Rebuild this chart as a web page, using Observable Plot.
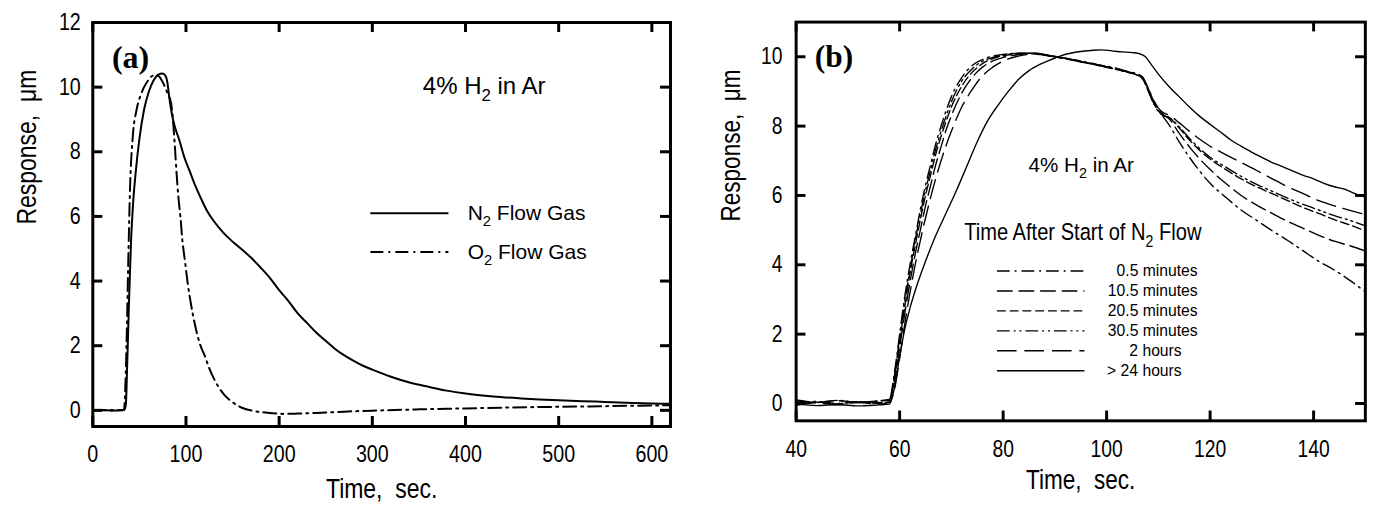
<!DOCTYPE html>
<html>
<head>
<meta charset="utf-8">
<script src="https://cdn.jsdelivr.net/npm/d3@7"></script>
<script src="https://cdn.jsdelivr.net/npm/@observablehq/plot@0.6"></script>
<style>
  html, body { margin: 0; padding: 0; background: #fff; }
  body { width: 1374px; height: 522px; overflow: hidden; position: relative; }
  #pa { position: absolute; left: 0; top: 0; }
  #pb { position: absolute; left: 687px; top: 0; }
</style>
</head>
<body>
<div id="pa"></div>
<div id="pb"></div>
<script>
// ---------- Tick values ----------
const xTicksA = [0, 100, 200, 300, 400, 500, 600];
const yTicksA = [0, 2, 4, 6, 8, 10, 12];
const xTicksB = [40, 60, 80, 100, 120, 140];
const yTicksB = [0, 2, 4, 6, 8, 10];

// ---------- Panel (a) series : [time s, response um] ----------
const n2Flow = [
  [0,0],[10,0.01],[20,-0.01],[30,0],[34,0.02],[35.5,0.2],[37,1.5],[39,3.5],[41,5.2],[43,6.3],[46,7.35],
  [50,8.4],[55,9.3],[60,9.85],[65,10.2],[70,10.38],[75,10.42],[78,10.35],[80,10.15],[82,9.7],
  [85,9.15],[88,8.78],[93,8.35],[98,7.85],[104,7.4],[110,6.95],[117,6.5],[123,6.15],[130,5.85],
  [140,5.5],[150,5.22],[160,4.98],[170,4.72],[180,4.42],[190,4.1],[200,3.72],[210,3.38],[220,3.0],
  [230,2.7],[240,2.4],[250,2.15],[260,1.9],[270,1.7],[280,1.53],[290,1.38],[300,1.26],[320,1.04],
  [340,0.86],[360,0.73],[380,0.61],[400,0.52],[430,0.43],[460,0.37],[500,0.31],[540,0.27],
  [580,0.23],[620,0.2]
];
const o2Flow = [
  [0,0],[10,0],[20,0.01],[30,0],[33.5,0.02],[35,0.8],[36.5,2.4],[38,4.5],[40,6.9],[43,8.5],[47,9.3],
  [52,9.8],[58,10.15],[64,10.35],[68,10.38],[72,10.3],[76,10.1],[80,9.82],[84,9.5],[86,9.0],
  [88,8.2],[90,7.3],[92,6.55],[94,6.0],[96,5.3],[99,4.6],[102,3.9],[105,3.35],[110,2.6],[115,2.05],
  [120,1.7],[125,1.3],[130,0.98],[135,0.72],[140,0.52],[150,0.25],[160,0.08],[175,-0.03],
  [190,-0.08],[205,-0.11],[220,-0.1],[240,-0.08],[270,-0.04],[300,-0.01],[350,0.03],[400,0.06],
  [450,0.09],[500,0.11],[550,0.13],[600,0.15],[620,0.16]
];

// ---------- Panel (b) series : [time s, response um] ----------
const t05min = [
  [40,0.02],[44,0.06],[48,0.0],[52,0.05],[56,0.03],[58,0.1],[59,0.9],[60,2.0],[61,3.1],[62,4.0],
  [63,4.8],[64,5.6],[65,6.3],[66,6.9],[67,7.5],[68,8.0],[69,8.45],[70,8.85],[72,9.4],[74,9.75],
  [76,9.92],[78,10.02],[80,10.07],[83,10.1],[86,10.1],[89,10.03],[92,9.95],[95,9.88],[98,9.78],
  [101,9.7],[104,9.58],[106,9.5],[107,9.4],[108,9.05],[109,8.7],[110,8.45],[111,8.25],[112,8.05],
  [114,7.55],[116,7.1],[118,6.7],[120,6.35],[123,5.95],[126,5.58],[129,5.28],[132,4.98],[135,4.7],
  [138,4.4],[141,4.1],[144,3.85],[147,3.55],[150,3.22]
];
const t105min = [
  [40,0.08],[44,0.03],[48,0.08],[52,0.04],[56,0.07],[58,0.1],[59,0.6],[60,1.6],[61,2.6],[62,3.5],
  [63,4.3],[64,5.0],[65,5.7],[66,6.3],[67,6.9],[68,7.4],[69,7.9],[70,8.3],[72,8.95],[74,9.4],
  [76,9.7],[78,9.88],[80,9.98],[83,10.06],[86,10.1],[89,10.04],[92,9.96],[95,9.86],[98,9.76],
  [101,9.68],[104,9.56],[106,9.48],[107,9.38],[108,9.1],[109,8.75],[110,8.5],[111,8.32],[112,8.22],
  [114,7.8],[116,7.4],[118,7.05],[120,6.75],[123,6.35],[126,6.0],[129,5.72],[132,5.48],[135,5.25],
  [138,5.05],[141,4.85],[144,4.68],[147,4.55],[150,4.4]
];
const t205min = [
  [40,-0.03],[44,0.04],[48,-0.01],[52,0.05],[56,0.0],[58,0.05],[59,0.7],[60,1.8],[61,2.8],[62,3.75],
  [63,4.55],[64,5.3],[65,6.0],[66,6.6],[67,7.2],[68,7.7],[69,8.15],[70,8.55],[72,9.15],[74,9.55],
  [76,9.8],[78,9.95],[80,10.03],[83,10.08],[86,10.1],[89,10.02],[92,9.94],[95,9.86],[98,9.76],
  [101,9.66],[104,9.56],[106,9.47],[107,9.35],[108,9.05],[109,8.7],[110,8.45],[111,8.3],[112,8.25],
  [114,7.95],[116,7.6],[118,7.3],[120,7.05],[123,6.75],[126,6.48],[129,6.25],[132,6.05],[135,5.85],
  [138,5.65],[141,5.48],[144,5.3],[147,5.15],[150,4.98]
];
const t305min = [
  [40,0.1],[44,0.04],[48,0.09],[52,0.03],[56,0.08],[58,0.12],[59,0.8],[60,1.9],[61,2.95],[62,3.85],
  [63,4.7],[64,5.45],[65,6.15],[66,6.75],[67,7.35],[68,7.85],[69,8.3],[70,8.7],[72,9.3],[74,9.65],
  [76,9.87],[78,9.98],[80,10.05],[83,10.1],[86,10.08],[89,10.02],[92,9.95],[95,9.85],[98,9.77],
  [101,9.67],[104,9.55],[106,9.46],[107,9.36],[108,9.02],[109,8.68],[110,8.42],[111,8.3],[112,8.26],
  [114,7.98],[116,7.65],[118,7.35],[120,7.1],[123,6.82],[126,6.55],[129,6.32],[132,6.12],[135,5.92],
  [138,5.74],[141,5.58],[144,5.42],[147,5.28],[150,5.12]
];
const t2hours = [
  [40,-0.05],[44,0.02],[48,-0.04],[52,0.03],[56,-0.02],[58,0.03],[59,0.4],[60,1.3],[61,2.3],[62,3.2],
  [63,4.0],[64,4.7],[65,5.35],[66,5.95],[67,6.5],[68,7.0],[69,7.45],[70,7.85],[72,8.55],[74,9.05],
  [76,9.45],[78,9.7],[80,9.88],[83,10.02],[86,10.08],[89,10.03],[92,9.96],[95,9.87],[98,9.78],
  [101,9.68],[104,9.57],[106,9.48],[107,9.4],[108,9.1],[109,8.78],[110,8.52],[111,8.38],[112,8.32],
  [114,8.1],[116,7.85],[118,7.62],[120,7.42],[123,7.18],[126,6.95],[129,6.72],[132,6.48],[135,6.25],
  [138,6.05],[141,5.85],[144,5.7],[147,5.57],[150,5.45]
];
const t24hours = [
  [40,-0.02],[44,-0.06],[48,-0.03],[52,-0.07],[56,-0.04],[58,-0.02],[59,0.45],[60,1.35],[61,2.15],
  [62,2.75],[63,3.25],[65,4.1],[67,4.85],[69,5.5],[71,6.15],[73,6.85],[75,7.55],[77,8.15],[79,8.6],
  [81,9.0],[83,9.35],[85,9.6],[87,9.77],[89,9.9],[91,10.02],[93,10.1],[95,10.15],[97,10.18],[99,10.2],
  [101,10.17],[103,10.14],[105,10.12],[106.5,10.08],[107.5,10.0],[108.5,9.8],[110,9.5],[112,9.15],
  [114,8.85],[116,8.55],[118,8.28],[120,8.05],[122,7.83],[124,7.6],[126,7.42],[128,7.25],[130,7.1],
  [132,6.95],[134,6.83],[136,6.7],[138,6.58],[140,6.48],[142,6.35],[144,6.25],[146,6.18],[148,6.05],
  [150,5.95]
];

// ---------- Labels ----------
const legendA = ["N_2 Flow Gas", "O_2 Flow Gas"];
const legendB = ["0.5 minutes", "10.5 minutes", "20.5 minutes", "30.5 minutes", "2 hours", "> 24 hours"];
const seriesA = [n2Flow, o2Flow];
const seriesB = [t05min, t105min, t205min, t305min, t2hours, t24hours];

// ---------- Styles ----------
const NARROW = "'Liberation Sans Narrow', 'Liberation Sans', Arial, sans-serif";
const SANS = "'Liberation Sans', Arial, Helvetica, sans-serif";
const SERIF = "'Liberation Serif', 'Times New Roman', serif";
const CONDENSE = 0.82;
const dashA = [null, "13,5,2,5"];
const dashB = ["13,5,2,5", "16,6", "9,4", "13,4,2,4,2,4", "20,8", null];

function frameTicks(xt, yt, innerW, innerH, len) {
  return [
    Plot.ruleX(xt, {x: d => d, insetBottom: innerH - len, strokeWidth: 3}),
    Plot.ruleX(xt, {x: d => d, insetTop: innerH - len, strokeWidth: 3}),
    Plot.ruleY(yt, {y: d => d, insetRight: innerW - len, strokeWidth: 3}),
    Plot.ruleY(yt, {y: d => d, insetLeft: innerW - len, strokeWidth: 3}),
  ];
}

function subscripts(svg) {
  svg.querySelectorAll("text, tspan").forEach(t => {
    if (t.children.length) return;
    const s = t.textContent;
    if (!/_\d/.test(s)) return;
    const fs = parseFloat(getComputedStyle(t).fontSize) || 16;
    const shift = fs * 0.28;
    t.textContent = "";
    const parts = s.split(/_(\d)/);
    parts.forEach((p, i) => {
      if (p === "") return;
      const sp = document.createElementNS("http://www.w3.org/2000/svg", "tspan");
      sp.textContent = p;
      if (i % 2 === 1) {
        sp.setAttribute("font-size", (fs * 0.7) + "px");
        sp.setAttribute("dy", shift);
      } else if (i > 0) {
        sp.setAttribute("dy", -shift);
      }
      t.appendChild(sp);
    });
  });
}

// Narrow (Helvetica-Narrow-like) text: the narrow face is not installed, so squeeze glyphs
function condense(svg) {
  svg.querySelectorAll("text").forEach(t => {
    const ff = getComputedStyle(t).fontFamily || "";
    if (!/Narrow/.test(ff)) return;
    const xAttr = t.getAttribute("x");
    if (!xAttr || +xAttr === 0) {
      const tr = t.getAttribute("transform") || "";
      t.setAttribute("transform", (tr + " scale(" + CONDENSE + ",1)").trim());
    } else {
      const L = t.getComputedTextLength();
      if (L > 0) {
        t.setAttribute("textLength", (L * CONDENSE).toFixed(2));
        t.setAttribute("lengthAdjust", "spacingAndGlyphs");
      }
    }
  });
}

// ---------- Panel (a) ----------
{
  const W = 687, H = 522, mL = 92.3, mR = 17, mT = 22, mB = 96;
  const innerW = W - mL - mR, innerH = H - mT - mB;
  const marks = [];
  seriesA.forEach((s, i) => marks.push(Plot.line(s, {
    x: d => d[0], y: d => d[1], stroke: "black", strokeWidth: 2,
    strokeDasharray: dashA[i], curve: "monotone-x", clip: true
  })));
  legendA.forEach((name, i) => {
    const yv = 6.1 - i * 1.2;
    marks.push(Plot.ruleY([yv], {y: d => d, x1: 298.4, x2: 382.2, stroke: "black",
      strokeWidth: 2, strokeDasharray: dashA[i]}));
    marks.push(Plot.text([name], {x: 402.3, y: yv, text: d => d, textAnchor: "start",
      fontSize: 21, fontFamily: SANS, fill: "black"}));
  });
  marks.push(Plot.text(["4% H_2 in Ar"], {x: 420, y: 10.02, text: d => d, fontSize: 24,
    fontFamily: SANS, fill: "black"}));
  marks.push(Plot.text(["(a)"], {x: 40.5, y: 10.9, text: d => d, fontSize: 32,
    fontWeight: "bold", fontFamily: SERIF, fill: "black"}));
  marks.push(...frameTicks(xTicksA, yTicksA, innerW, innerH, 10));
  marks.push(Plot.frame({stroke: "black", strokeWidth: 3}));
  marks.push(Plot.axisX({ticks: xTicksA, anchor: "bottom", tickSize: 0, tickPadding: 18,
    label: null, fontSize: 24, fontFamily: NARROW}));
  marks.push(Plot.axisY({ticks: yTicksA, anchor: "left", tickSize: 0, tickPadding: 12,
    label: null, fontSize: 24, fontFamily: NARROW}));
  marks.push(Plot.text(["Time,  sec."], {frameAnchor: "bottom", dy: 71, text: d => d,
    fontSize: 28, fontFamily: NARROW, fill: "black"}));
  marks.push(Plot.text(["Response,  \u03BCm"], {frameAnchor: "left", dx: -66, rotate: -90,
    text: d => d, fontSize: 28, fontFamily: NARROW, fill: "black"}));
  const p = Plot.plot({
    width: W, height: H, marginLeft: mL, marginRight: mR, marginTop: mT, marginBottom: mB,
    x: {domain: [0, 620]}, y: {domain: [-0.5, 12]},
    style: {fontFamily: NARROW, fontSize: "24px", color: "black", background: "white", overflow: "visible"},
    marks
  });
  document.getElementById("pa").appendChild(p);
  subscripts(p);
  condense(p);
}

// ---------- Panel (b) ----------
{
  const W = 700, H = 522, mL = 110.7, mR = 9.3, mT = 22, mB = 93.7;
  const innerW = W - mL - mR, innerH = H - mT - mB;
  const marks = [];
  seriesB.forEach((s, i) => marks.push(Plot.line(s, {
    x: d => d[0], y: d => d[1], stroke: "black", strokeWidth: 1.4,
    strokeDasharray: dashB[i], curve: "monotone-x", clip: true
  })));
  legendB.forEach((name, i) => {
    const yv = 3.82 - i * 0.575;
    marks.push(Plot.ruleY([yv], {y: d => d, x1: 78.9, x2: 95.8, stroke: "black",
      strokeWidth: 1.4, strokeDasharray: dashB[i]}));
    marks.push(Plot.text([name], {x: name.includes("minutes") ? 117.6 : 114.5, y: yv,
      text: d => d, textAnchor: "end", fontSize: 16, fontFamily: SANS, fill: "black"}));
  });
  marks.push(Plot.text(["4% H_2 in Ar"], {x: 95.1, y: 6.86, text: d => d, fontSize: 21,
    fontFamily: SANS, fill: "black"}));
  marks.push(Plot.text(["Time After Start of N_2 Flow"], {x: 95.4, y: 4.95, text: d => d,
    fontSize: 25, fontFamily: NARROW, fill: "black"}));
  marks.push(Plot.text(["(b)"], {x: 47.3, y: 10.0, text: d => d, fontSize: 32,
    fontWeight: "bold", fontFamily: SERIF, fill: "black"}));
  marks.push(...frameTicks(xTicksB, yTicksB, innerW, innerH, 10));
  marks.push(Plot.frame({stroke: "black", strokeWidth: 3}));
  marks.push(Plot.axisX({ticks: xTicksB, anchor: "bottom", tickSize: 0, tickPadding: 20,
    label: null, fontSize: 24, fontFamily: NARROW}));
  marks.push(Plot.axisY({ticks: yTicksB, anchor: "left", tickSize: 0, tickPadding: 14,
    label: null, fontSize: 24, fontFamily: NARROW}));
  marks.push(Plot.text(["Time,  sec."], {frameAnchor: "bottom", dy: 69, text: d => d,
    fontSize: 28, fontFamily: NARROW, fill: "black"}));
  marks.push(Plot.text(["Response,  \u03BCm"], {frameAnchor: "left", dx: -66, rotate: -90,
    text: d => d, fontSize: 28, fontFamily: NARROW, fill: "black"}));
  const p = Plot.plot({
    width: W, height: H, marginLeft: mL, marginRight: mR, marginTop: mT, marginBottom: mB,
    x: {domain: [40, 150]}, y: {domain: [-0.5, 11]},
    style: {fontFamily: NARROW, fontSize: "24px", color: "black", background: "white", overflow: "visible"},
    marks
  });
  document.getElementById("pb").appendChild(p);
  subscripts(p);
  condense(p);
}
</script>
</body>
</html>
